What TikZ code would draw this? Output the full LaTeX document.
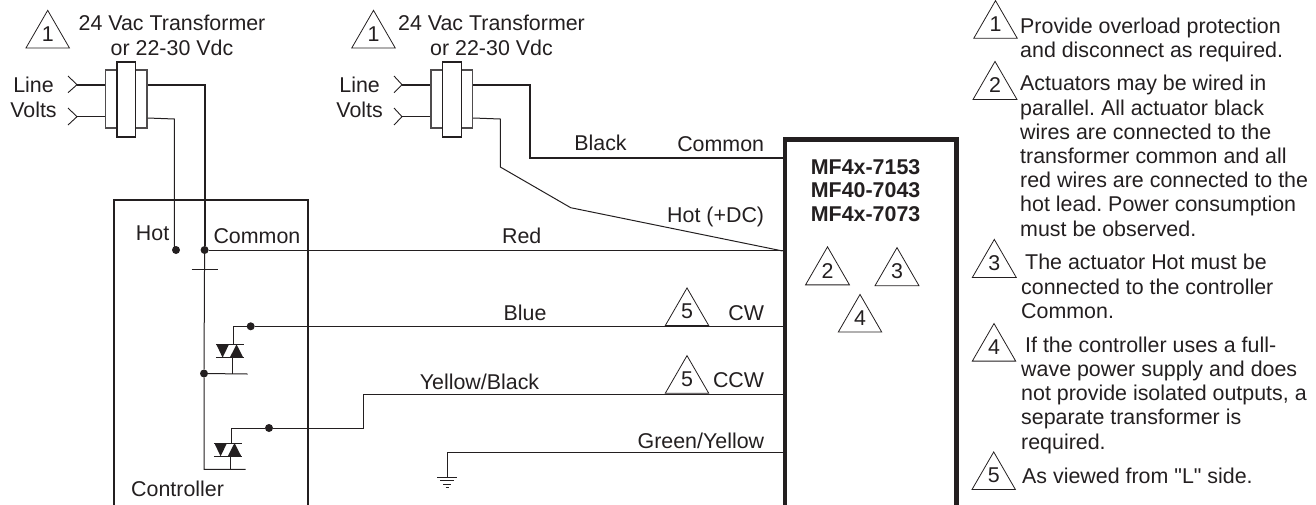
\documentclass[tikz,border=0pt]{standalone}
\usepackage{fontspec}
\setmainfont{Liberation Sans}[Ligatures=TeXOff]
\usetikzlibrary{shapes.geometric}
\definecolor{inkdark}{HTML}{231F20}
\frenchspacing
\tikzset{
  every node/.style={text=inkdark,font=\fontsize{21.4}{24.2}\selectfont},
  wire/.style={draw=inkdark,line width=1pt},
  heavywire/.style={draw=inkdark,line width=1.9pt},
  dotmark/.style={circle,fill=inkdark,inner sep=0pt,minimum size=8pt},
  flag/.style={regular polygon,regular polygon sides=3,draw=inkdark,line width=.8pt,inner sep=0pt,minimum size=43pt,text depth=3pt},
  xfmrcase/.style={rectangle,draw=inkdark!80,line width=1.2pt,fill=white,inner sep=0pt,minimum width=41.5pt,minimum height=58pt},
  xfmrcore/.style={rectangle,draw=inkdark,line width=1.2pt,fill=white,inner sep=0pt,minimum width=18.7pt,minimum height=75pt},
  label/.style={anchor=base,inner sep=0pt},
  rightlabel/.style={anchor=base east,inner sep=0pt},
  leftlabel/.style={anchor=base west,inner sep=0pt,align=left}
}
\begin{document}
\begin{tikzpicture}[x=1pt,y=-1pt]
\useasboundingbox (0,0) rectangle (1316,504);

% boxes
\node[draw=inkdark,line width=1.8pt,inner sep=0pt,minimum width=193.4pt,minimum height=310pt,anchor=north west] (controller) at (113.3,199) {};
\node[draw=inkdark,line width=4.5pt,inner sep=0pt,minimum width=171.6pt,minimum height=368.7pt,anchor=north west] (actuator) at (782.7,137.3) {};

% left transformer
\coordinate (forka) at (77,84.7);
\coordinate (forkb) at (77,116.7);
\node[xfmrcase] (casea) at (126.2,99) {};
\draw[heavywire] (forka) -- (casea.west |- forka);
\draw[wire] (forkb) -- (casea.west |- forkb);
\draw[wire,line width=.9pt] (68,76) -- (forka) -- (68,92.7);
\draw[wire,line width=.9pt] (68,108) -- (forkb) -- (68,125);
\node[xfmrcore] (corea) at (126.4,99.5) {};

% right transformer
\coordinate (forkc) at (402,84.7);
\coordinate (forkd) at (402,116.7);
\node[xfmrcase] (caseb) at (451.8,99) {};
\draw[heavywire] (forkc) -- (caseb.west |- forkc);
\draw[wire] (forkd) -- (caseb.west |- forkd);
\draw[wire,line width=.9pt] (394,76) -- (forkc) -- (394,92.7);
\draw[wire,line width=.9pt] (394,108) -- (forkd) -- (394,125);
\node[xfmrcore] (coreb) at (451.8,99.5) {};

% controller terminals
\node[dotmark] (dothot) at (176,250) {};
\node[dotmark] (dotcom) at (204.6,250) {};
\node[dotmark] (dotrail) at (204,373.5) {};
\node[dotmark] (dotcw) at (250.7,326.3) {};
\node[dotmark] (dotccw) at (269,428) {};

% left transformer leads
\draw[heavywire] (casea.east |- forka) -| (dotcom);
\draw[wire] (casea.east |- 0,118) -- (174.4,119) -- (174.4,250);

% right transformer leads
\draw[heavywire] (caseb.east |- forkc) -- (530.3,84.7) |- (actuator.west |- 0,157.6);
\draw[wire] (caseb.east |- 0,118) -- (500.3,119) -- (500.3,167) -- (570.7,207.7) -- (actuator.west |- 0,251);

% rail
\coordinate (railend) at (245.7,469.3);
\coordinate (railtick) at (204.3,269.7);
\draw[wire] (dotcom) -- (dotrail) |- (railend);
\draw[wire] ([xshift=-12.6pt]railtick) -- ([xshift=13.4pt]railtick);
\draw[wire] (dotrail) -- (247.7,374);

% triacs
\coordinate (triaca) at (232.3,344.3);
\coordinate (triacb) at (230.3,443);
\foreach \tname in {triaca,triacb} {
  \begin{scope}[shift={(\tname)}]
    \draw[wire,line width=.8pt] (-16.5,0) -- (11.2,0);
    \draw[wire,line width=.8pt] (-16.5,13.3) -- (11.2,13.3);
    \fill[inkdark] (-16,0) -- (-3.3,0) -- (-9.7,13.3) -- cycle;
    \fill[inkdark] (-2.5,13.3) -- (11,13.3) -- (4.2,0) -- cycle;
  \end{scope}
}
\draw[wire] ([yshift=-13.3pt]triaca) -- (triaca |- dotrail);
\draw[wire] ([yshift=-13.3pt]triacb) -- (triacb |- railend);
\draw[wire] ([xshift=1pt]triaca) |- (dotcw);
\draw[wire] ([xshift=1.3pt]triacb) |- (dotccw);

% actuator leads
\draw[wire] (dotcom) -- (actuator.west |- dotcom);
\draw[wire] (dotcw) -- (actuator.west |- dotcw);
\draw[wire] (dotccw) -- (363.3,428) -- (363.3,394.3) -- (actuator.west |- 0,394.3);

% ground
\coordinate (gnd) at (447,477);
\draw[wire] (gnd) |- (actuator.west |- 0,452.3);
\foreach \gw/\gy in {10/0,7/3.5,4/7,1.5/10.5}
  \draw[wire,line width=.8pt] ([xshift=-\gw pt,yshift=-\gy pt]gnd) -- ([xshift=\gw pt,yshift=-\gy pt]gnd);

% flags
\node[flag] (flaga) at (47.7,35.4) {1};
\node[flag] (flagb) at (373.5,35.4) {1};
\node[flag] (flagcw) at (687,313) {5};
\node[flag] (flagccw) at (687,380.7) {5};
\node[flag] (flagtwo) at (827.5,272.2) {2};
\node[flag] (flagthree) at (897,273) {3};
\node[flag] (flagfour) at (860,319.5) {4};
\node[flag] (noteone) at (995.5,25.7) {1};
\node[flag] (notetwo) at (995,86.8) {2};
\node[flag] (notethree) at (994.3,264.8) {3};
\node[flag] (notefour) at (994,348.6) {4};
\node[flag] (notefive) at (993.7,477) {5};

% labels
\node[label,align=center] (xfmra) at (172,55) {24 Vac Transformer\\or 22-30 Vdc};
\node[label,align=center] (xfmrb) at (491.5,55) {24 Vac Transformer\\or 22-30 Vdc};
\node[label,align=center] (linea) at (33.5,117) {Line\\Volts};
\node[label,align=center] (lineb) at (359.6,117) {Line\\Volts};
\node[leftlabel] (lblhot) at (135.7,240.7) {Hot};
\node[leftlabel] (lblcom) at (213.3,243.3) {Common};
\node[leftlabel] (lblctrl) at (131,496) {Controller};
\node[label] (lblblack) at (600.5,150) {Black};
\node[label] (lblred) at (521.7,243.5) {Red};
\node[label] (lblblue) at (525,320) {Blue};
\node[label] (lblyb) at (479.5,389.3) {Yellow/Black};
\node[rightlabel] (lblcommon) at (764.3,151.7) {Common};
\node[rightlabel] (lblhotdc) at (764.3,222.3) {Hot (+DC)};
\node[rightlabel] (lblcw) at (764.3,320) {CW};
\node[rightlabel] (lblccw) at (764.3,387.7) {CCW};
\node[rightlabel] (lblgy) at (764.3,448) {Green/Yellow};
\node[leftlabel,font=\fontsize{21.4}{23.8}\selectfont\bfseries] (models) at (810.7,221.7) {MF4x-7153\\MF40-7043\\MF4x-7073};

% notes
\node[leftlabel] (textone) at (1020,57.7) {Provide overload protection\\and disconnect as required.};
\node[leftlabel] (texttwo) at (1020,236) {Actuators may be wired in\\parallel. All actuator black\\wires are connected to the\\transformer common and all\\red wires are connected to the\\hot lead. Power consumption\\must be observed.};
\node[leftlabel] (textthree) at (1021,318.3) {\hspace*{4pt}The actuator Hot must be\\connected to the controller\\Common.};
\node[leftlabel] (textfour) at (1021,449) {\hspace*{4pt}If the controller uses a full-\\wave power supply and does\\not provide isolated outputs, a\\separate transformer is\\required.};
\node[leftlabel] (textfive) at (1022,483.3) {As viewed from "L" side.};
\end{tikzpicture}
\end{document}
